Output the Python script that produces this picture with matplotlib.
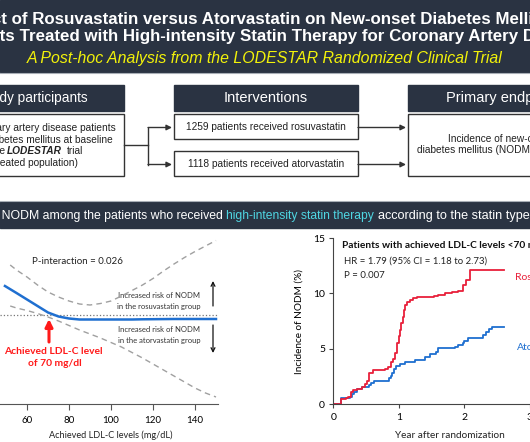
import matplotlib
matplotlib.use("Agg")
import matplotlib.pyplot as plt
from matplotlib.patches import Rectangle

plt.rcParams['font.family'] = ['Liberation Sans', 'DejaVu Sans']

W, H = 530, 442

# ---- texts ----
title_lines = [
    "Effect of Rosuvastatin versus Atorvastatin on New-onset Diabetes Mellitus in",
    "Patients Treated with High-intensity Statin Therapy for Coronary Artery Disease",
]
subtitle = "A Post-hoc Analysis from the LODESTAR Randomized Clinical Trial"
headers = ["Study participants", "Interventions", "Primary endpoint"]
participants_lines = ["Coronary artery disease patients",
                      "without diabetes mellitus at baseline",
                      "(As-treated population)"]
arm_labels = ["1259 patients received rosuvastatin",
              "1118 patients received atorvastatin"]
endpoint_lines = ["Incidence of new-onset", "diabetes mellitus (NODM)"]
band_parts = ["Incidence of NODM among the patients who received",
              "high-intensity statin therapy",
              "according to the statin type"]

# ---- spline plot (achieved LDL-C vs log HR) ----
ldl_hr_x = [49.5, 55, 60, 65, 70, 75, 80, 85, 90, 95, 100, 105, 110, 115,
            120, 125, 130, 135, 140, 145, 150]
log_hr = [0.29, 0.22, 0.155, 0.09, 0.025, -0.015, -0.035, -0.045, -0.045,
          -0.045, -0.045, -0.045, -0.045, -0.043, -0.042, -0.041, -0.04,
          -0.04, -0.04, -0.04, -0.04]
ldl_ci_x = [52, 55, 60, 65, 70, 75, 80, 85, 90, 95, 100, 105, 110, 115,
            120, 125, 130, 135, 140, 145, 150]
ci_upper = [0.50, 0.45, 0.38, 0.30, 0.23, 0.18, 0.14, 0.11, 0.10, 0.115, 0.14,
            0.19, 0.245, 0.30, 0.365, 0.44, 0.51, 0.575, 0.635, 0.69, 0.745]
ci_lower = [0.09, 0.07, 0.045, 0.015, -0.02, -0.06, -0.105, -0.15, -0.19,
            -0.23, -0.275, -0.32, -0.375, -0.43, -0.49, -0.55, -0.61, -0.67,
            -0.73, -0.78, -0.82]
ldl_ticks = [60, 80, 100, 120, 140]

# ---- Kaplan-Meier (cumulative incidence, %) ----
rosu_t = [0, 0.117, 0.2, 0.23, 0.27, 0.30, 0.36, 0.44, 0.48, 0.52, 0.55, 0.60,
          0.79, 0.83, 0.88, 0.91, 0.94, 0.97, 1.0, 1.02, 1.04, 1.06, 1.08,
          1.10, 1.13, 1.17, 1.22, 1.27, 1.53, 1.60, 1.70, 1.81, 1.90, 1.98,
          2.03, 2.08, 2.6]
rosu_v = [0, 0.45, 0.55, 0.7, 1.15, 1.3, 1.4, 1.6, 1.8, 2.1, 2.8, 3.1, 3.2,
          3.35, 3.8, 4.1, 4.6, 5.5, 6.2, 6.7, 7.3, 7.9, 8.5, 9.0, 9.2, 9.4,
          9.6, 9.7, 9.8, 9.9, 10.0, 10.1, 10.2, 10.75, 11.2, 12.1, 12.1]
ator_t = [0, 0.117, 0.25, 0.28, 0.32, 0.36, 0.44, 0.54, 0.58, 0.62, 0.85,
          0.88, 0.90, 0.93, 0.96, 1.02, 1.1, 1.25, 1.4, 1.48, 1.56, 1.6, 1.85,
          1.9, 1.98, 2.0, 2.06, 2.29, 2.33, 2.38, 2.42, 2.6]
ator_v = [0, 0.54, 0.69, 0.93, 1.14, 1.36, 1.54, 1.74, 1.9, 2.1, 2.34, 2.55,
          2.8, 3.15, 3.45, 3.63, 3.85, 4.0, 4.3, 4.55, 4.75, 5.05, 5.2, 5.35,
          5.55, 5.75, 5.95, 6.25, 6.55, 6.8, 7.0, 7.0]
km_yticks = [0, 5, 10, 15]
km_xticks = [0, 1, 2, 3]

NAVY = '#2a3342'
EDGE = '#333333'
RED = '#e8203a'
BLUE = '#1f6fd0'
PLOTFONT = ['Lato', 'DejaVu Sans']

fig = plt.figure(figsize=(W / 100, H / 100), dpi=100)
bg = fig.add_axes([0, 0, 1, 1], zorder=0)
bg.set_xlim(0, W)
bg.set_ylim(H, 0)
bg.axis('off')

# title banner
bg.add_patch(Rectangle((0, 0), W, 72, color=NAVY))
bg.plot([0, W], [72.5, 72.5], color='#a8aeb6', lw=0.8)
bg.text(269, 20, title_lines[0], ha='center', va='center', color='white',
        fontsize=12.2, fontweight='bold')
bg.text(268, 36.5, title_lines[1], ha='center', va='center', color='white',
        fontsize=12.2, fontweight='bold')
bg.text(265, 59, subtitle, ha='center', va='center', color='#f2f20a',
        fontsize=11.4, style='italic')

# flow boxes
for x0, x1 in [(-70, 124), (174, 358), (408, 620)]:
    bg.add_patch(Rectangle((x0, 85), x1 - x0, 26, color=NAVY))
bg.text(88, 98, headers[0], ha='right', va='center', color='white', fontsize=9.8)
bg.text(266, 98, headers[1], ha='center', va='center', color='white', fontsize=10.5)
bg.text(446, 98, headers[2], ha='left', va='center', color='white', fontsize=10.5)

bg.add_patch(Rectangle((-70, 114), 194, 62, fill=False, ec=EDGE, lw=1))
bg.add_patch(Rectangle((174, 114), 184, 25, fill=False, ec=EDGE, lw=1))
bg.add_patch(Rectangle((174, 151), 184, 25, fill=False, ec=EDGE, lw=1))
bg.add_patch(Rectangle((408, 114), 212, 62, fill=False, ec=EDGE, lw=1))

BOXFS = 7.3
bg.text(116, 128, participants_lines[0], ha='right', va='center', fontsize=BOXFS, color='#222')
bg.text(113, 140, participants_lines[1], ha='right', va='center', fontsize=BOXFS, color='#222')
bg.text(5, 151, "in the", ha='right', va='center', fontsize=BOXFS, color='#222')
bg.text(7, 151, "LODESTAR", ha='left', va='center', fontsize=BOXFS, color='#222',
        fontweight='bold', style='italic')
bg.text(67, 151, "trial", ha='left', va='center', fontsize=BOXFS, color='#222')
bg.text(78, 163, participants_lines[2], ha='right', va='center', fontsize=BOXFS, color='#222')

bg.text(266, 127, arm_labels[0], ha='center', va='center', fontsize=BOXFS, color='#222')
bg.text(266, 164, arm_labels[1], ha='center', va='center', fontsize=BOXFS, color='#222')
bg.text(448, 139, endpoint_lines[0], ha='left', va='center', fontsize=BOXFS, color='#222')
bg.text(417, 150, endpoint_lines[1], ha='left', va='center', fontsize=BOXFS, color='#222')

# connectors
bg.plot([124, 148], [145, 145], color=EDGE, lw=1)
bg.plot([148, 148], [127.5, 164.5], color=EDGE, lw=1)
arrow = dict(arrowstyle='-|>', color=EDGE, lw=1, mutation_scale=8, shrinkA=0, shrinkB=0)
for yy in (127.5, 164.5):
    bg.annotate('', xy=(172, yy), xytext=(148, yy), arrowprops=arrow)
    bg.annotate('', xy=(406, yy), xytext=(358, yy), arrowprops=arrow)

# second band
bg.plot([0, W], [201, 201], color='#a8aeb6', lw=0.8)
bg.add_patch(Rectangle((0, 202), W, 26, color=NAVY))
bg.text(223, 216, band_parts[0], ha='right', va='center', color='white', fontsize=8.8)
bg.text(226, 216, band_parts[1], ha='left', va='center', color='#4fd6e2', fontsize=8.7)
bg.text(378, 216, band_parts[2], ha='left', va='center', color='white', fontsize=9.1)

# ---- left: spline plot ----
ax1 = fig.add_axes([0, (H - 404) / H, 218 / W, 170 / H], zorder=1)
ax1.patch.set_alpha(0)
ax1.set_xlim(47.14, 150.95)
ax1.set_ylim(-0.89, 0.81)
ax1.axhline(0, color='#777777', lw=0.9, ls=':')
ax1.plot(ldl_ci_x, ci_upper, color='#a0a0a0', lw=1, ls=(0, (4, 3)))
ax1.plot(ldl_ci_x, ci_lower, color='#a0a0a0', lw=1, ls=(0, (4, 3)))
ax1.plot(ldl_hr_x, log_hr, color=BLUE, lw=1.8)
for s in ['left', 'top', 'right']:
    ax1.spines[s].set_visible(False)
ax1.spines['bottom'].set_color('#555555')
ax1.set_xticks(ldl_ticks)
ax1.set_yticks([])
ax1.tick_params(axis='x', direction='out', length=4.5, color='#555555',
                labelsize=7, pad=4)
for lab in ax1.get_xticklabels():
    lab.set_family(PLOTFONT)
bg.text(111, 435, "Achieved LDL-C levels (mg/dL)", ha='center', va='center',
        family=PLOTFONT, fontsize=6.6, color='#222')

bg.text(77, 261, "P-interaction = 0.026", ha='center', va='center', fontsize=7,
        family=PLOTFONT, color='#222')
bg.text(159, 296, "Increased risk of NODM", ha='center', va='center', fontsize=5.5,
        family=PLOTFONT, color='#333')
bg.text(159, 306.5, "in the rosuvastatin group", ha='center', va='center', fontsize=5.5,
        family=PLOTFONT, color='#333')
bg.text(159, 329, "Increased risk of NODM", ha='center', va='center', fontsize=5.5,
        family=PLOTFONT, color='#333')
bg.text(159, 340, "in the atorvastatin group", ha='center', va='center', fontsize=5.5,
        family=PLOTFONT, color='#333')
thin = dict(arrowstyle='->', color='#111111', lw=0.9, shrinkA=0, shrinkB=0,
            mutation_scale=7)
bg.annotate('', xy=(213, 281), xytext=(213, 306), arrowprops=thin)
bg.annotate('', xy=(213, 353), xytext=(213, 325), arrowprops=thin)
bg.annotate('', xy=(49, 319), xytext=(49, 342),
            arrowprops=dict(arrowstyle='-|>', color='#ff1a1a', lw=2.2,
                            mutation_scale=11, shrinkA=0, shrinkB=0))
bg.text(53, 352, "Achieved LDL-C level", ha='center', va='center', fontsize=7.4,
        fontweight='bold', family=PLOTFONT, color='#ff1a1a')
bg.text(55, 363.5, "of 70 mg/dl", ha='center', va='center', fontsize=7.4,
        fontweight='bold', family=PLOTFONT, color='#ff1a1a')

# ---- right: Kaplan-Meier ----
ax2 = fig.add_axes([333.3 / W, (H - 404.3) / H, (W - 333.3) / W, (404.3 - 238) / H],
                   zorder=1)
ax2.patch.set_alpha(0)
ax2.step(ator_t, ator_v, where='post', color=BLUE, lw=1.3)
ax2.step(rosu_t, rosu_v, where='post', color=RED, lw=1.3)
ax2.set_xlim(0, (W - 333.3) / 80)
ax2.set_ylim(0, 15)
ax2.set_xticks(km_xticks)
ax2.set_yticks(km_yticks)
for s in ['top', 'right']:
    ax2.spines[s].set_visible(False)
for s in ['left', 'bottom']:
    ax2.spines[s].set_color('#444444')
ax2.tick_params(direction='out', length=3, color='#444444', labelsize=7.5, pad=3)
for lab in ax2.get_xticklabels() + ax2.get_yticklabels():
    lab.set_family(PLOTFONT)
ax2.set_ylabel("Incidence of NODM (%)", family=PLOTFONT, fontsize=7.2, labelpad=7)
bg.text(450, 435, "Year after randomization", ha='center', va='center',
        family=PLOTFONT, fontsize=7.2, color='#222')

bg.text(342, 245, "Patients with achieved LDL-C levels <70 mg/dL", ha='left',
        va='center', fontsize=7.3, fontweight='bold', family=PLOTFONT, color='#111')
bg.text(344, 261, "HR = 1.79 (95% CI = 1.18 to 2.73)", ha='left', va='center',
        fontsize=6.9, family=PLOTFONT, color='#222')
bg.text(344, 276, "P = 0.007", ha='left', va='center', fontsize=6.9,
        family=PLOTFONT, color='#222')
bg.text(515, 278, "Rosuvastatin", ha='left', va='center', fontsize=7.5,
        family=PLOTFONT, color=RED)
bg.text(517, 348, "Atorvastatin", ha='left', va='center', fontsize=7.5,
        family=PLOTFONT, color=BLUE)

fig.savefig("out.png", dpi=100)
